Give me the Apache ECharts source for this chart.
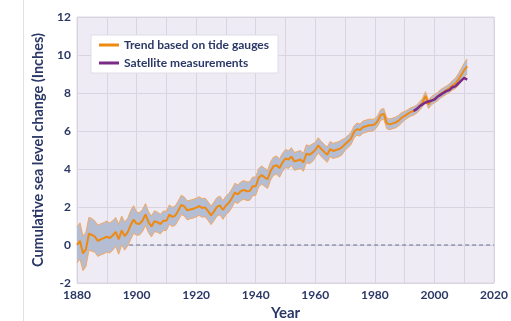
<!DOCTYPE html>
<html><head><meta charset="utf-8">
<script src="https://cdn.jsdelivr.net/npm/echarts@6/dist/echarts.min.js"></script>
<style>html,body{margin:0;padding:0;background:#fff}#c{width:511px;height:321px}</style>
</head><body><div id="c"></div>
<script>
var years = [
1880,1881,1882,1883,1884,1885,1886,1887,1888,1889,
1890,1891,1892,1893,1894,1895,1896,1897,1898,1899,
1900,1901,1902,1903,1904,1905,1906,1907,1908,1909,
1910,1911,1912,1913,1914,1915,1916,1917,1918,1919,
1920,1921,1922,1923,1924,1925,1926,1927,1928,1929,
1930,1931,1932,1933,1934,1935,1936,1937,1938,1939,
1940,1941,1942,1943,1944,1945,1946,1947,1948,1949,
1950,1951,1952,1953,1954,1955,1956,1957,1958,1959,
1960,1961,1962,1963,1964,1965,1966,1967,1968,1969,
1970,1971,1972,1973,1974,1975,1976,1977,1978,1979,
1980,1981,1982,1983,1984,1985,1986,1987,1988,1989,
1990,1991,1992,1993,1994,1995,1996,1997,1998,1999,
2000,2001,2002,2003,2004,2005,2006,2007,2008,2009,
2010,2011];
var trend = [
0.00,0.22,-0.44,-0.23,0.59,0.53,0.44,0.22,0.30,0.36,
0.44,0.37,0.50,0.69,0.30,0.77,0.47,0.67,1.04,1.34,
1.13,1.11,1.29,1.61,1.20,0.98,1.25,1.20,1.10,1.28,
1.27,1.60,1.48,1.55,1.80,2.11,2.03,1.82,1.87,1.91,
1.97,2.05,1.95,1.98,1.78,1.56,1.77,2.01,2.08,1.84,
2.08,2.22,2.46,2.76,2.67,2.83,2.90,2.83,2.84,3.09,
3.09,3.54,3.68,3.56,3.46,3.90,4.15,4.20,4.05,4.35,
4.55,4.50,4.65,4.40,4.45,4.50,4.35,4.80,4.75,4.85,
5.00,5.25,5.05,4.90,4.75,5.05,4.95,5.00,5.05,5.15,
5.30,5.45,5.60,5.95,6.10,6.05,6.20,6.25,6.30,6.30,
6.35,6.55,6.85,6.90,6.40,6.35,6.40,6.45,6.55,6.70,
6.80,6.90,7.00,7.05,7.15,7.30,7.50,7.85,7.40,7.60,
7.70,7.80,7.95,8.05,8.15,8.25,8.40,8.50,8.70,8.95,
9.20,9.40];
var margin = [
0.95,0.95,0.91,0.90,0.87,0.86,0.82,0.82,0.82,0.82,
0.82,0.79,0.78,0.76,0.79,0.76,0.74,0.72,0.76,0.73,
0.61,0.59,0.58,0.57,0.55,0.55,0.55,0.53,0.52,0.51,
0.51,0.51,0.51,0.51,0.51,0.51,0.50,0.50,0.49,0.49,
0.49,0.49,0.49,0.49,0.49,0.49,0.49,0.49,0.49,0.49,
0.49,0.49,0.49,0.49,0.49,0.49,0.49,0.49,0.49,0.49,
0.48,0.48,0.48,0.48,0.48,0.48,0.48,0.48,0.48,0.48,
0.47,0.47,0.47,0.47,0.47,0.47,0.47,0.47,0.47,0.47,
0.40,0.40,0.40,0.40,0.40,0.40,0.40,0.40,0.40,0.40,
0.32,0.32,0.32,0.32,0.32,0.32,0.32,0.32,0.32,0.32,
0.28,0.28,0.28,0.28,0.28,0.28,0.28,0.28,0.28,0.28,
0.22,0.22,0.22,0.22,0.22,0.22,0.22,0.22,0.22,0.22,
0.22,0.22,0.22,0.22,0.22,0.22,0.25,0.27,0.30,0.33,
0.36,0.40];
var satYears = [1993,1994,1995,1996,1997,1998,1999,2000,2001,2002,2003,2004,2005,2006,2007,2008,2009,2010,2011];
var satellite = [7.05,7.15,7.30,7.40,7.50,7.55,7.60,7.65,7.80,7.90,8.00,8.10,8.15,8.30,8.35,8.50,8.65,8.80,8.70];
var zeroLine = [[1897.5,0],[2020,0]];
var xTicks = [1880,1900,1920,1940,1960,1980,2000,2020];
var yTicks = [-2,0,2,4,6,8,10,12];

var navy = '#2b3866';
var font = 'Lato, "Open Sans", sans-serif';
var lower = [], upper = [], trendPts = [], satPts = [], bandRows = [];
for (var i = 0; i < years.length; i++) {
  lower.push([years[i], trend[i] - margin[i]]);
  upper.push([years[i], trend[i] + margin[i]]);
  trendPts.push([years[i], trend[i]]);
  bandRows.push([years[i], trend[i] - margin[i], trend[i] + margin[i]]);
}
for (var j = 0; j < satYears.length; j++) satPts.push([satYears[j], satellite[j]]);

function renderBand(params, api) {
  if (params.dataIndex !== 0) return null;
  var top = [], bot = [];
  for (var k = 0; k < bandRows.length; k++) {
    top.push(api.coord([bandRows[k][0], bandRows[k][2]]));
    bot.unshift(api.coord([bandRows[k][0], bandRows[k][1]]));
  }
  return {type: 'polygon', shape: {points: top.concat(bot)}, style: {fill: '#b5bdd3', stroke: 'none'}};
}

var chart = echarts.init(document.getElementById('c'), null, {renderer: 'canvas'});
chart.setOption({
  animation: false,
  backgroundColor: '#fff',
  textStyle: {fontFamily: font},
  graphic: [{type: 'line', shape: {x1: 23.5, y1: 0, x2: 23.5, y2: 321}, style: {stroke: '#e2e2e2', lineWidth: 1}}],
  grid: {left: 77, right: 17, top: 17, bottom: 38, show: true, containLabel: false, outerBoundsMode: 'none',
    backgroundColor: '#eeebf5', borderColor: '#dcd9e4', borderWidth: 1},
  legend: {
    left: 91, top: 35, orient: 'vertical', backgroundColor: '#fff', borderColor: '#dedde6', borderWidth: 1,
    padding: [4, 9, 4, 8], itemGap: 6, itemWidth: 20, itemHeight: 3, icon: 'rect',
    data: ['Trend based on tide gauges', 'Satellite measurements'],
    textStyle: {color: navy, fontWeight: 'bold', fontSize: 12, fontFamily: font}
  },
  xAxis: {
    type: 'value', min: 1880, max: 2020, interval: 10,
    name: 'Year', nameLocation: 'middle', nameGap: 23,
    nameTextStyle: {color: navy, fontWeight: 'bold', fontSize: 15, fontFamily: font},
    axisLine: {show: false}, axisTick: {show: false},
    axisLabel: {color: navy, fontWeight: 'bold', fontSize: 12, margin: 6, fontFamily: font,
      formatter: function (v) { return xTicks.indexOf(v) >= 0 ? String(v) : ''; }},
    splitLine: {show: true, lineStyle: {color: '#d8d5e1', width: 1}}
  },
  yAxis: {
    type: 'value', min: -2, max: 12, interval: 2,
    name: 'Cumulative sea level change (Inches)', nameLocation: 'middle', nameGap: 30,
    nameTextStyle: {color: navy, fontWeight: 'bold', fontSize: 14.5, fontFamily: font},
    axisLine: {show: false}, axisTick: {show: false},
    axisLabel: {color: navy, fontWeight: 'bold', fontSize: 12, margin: 6, fontFamily: font,
      formatter: function (v) { return yTicks.indexOf(v) >= 0 ? String(v) : ''; }},
    splitLine: {show: true, lineStyle: {color: '#d8d5e1', width: 1}}
  },
  series: [
    {name: 'zero', type: 'line', data: zeroLine, symbol: 'none', silent: true,
     lineStyle: {color: '#656e93', width: 1, type: [4, 3]}, z: 1},
    {name: 'band', type: 'custom', data: bandRows, renderItem: renderBand, silent: true, z: 2,
     encode: {x: 0, y: [1, 2]}},
    {name: 'lowerEdge', type: 'line', data: lower, symbol: 'none', lineStyle: {color: '#f4a860', width: 1}, z: 3},
    {name: 'upperEdge', type: 'line', data: upper, symbol: 'none', lineStyle: {color: '#f4a860', width: 1}, z: 3},
    {name: 'Trend based on tide gauges', type: 'line', data: trendPts, symbol: 'none', color: '#ee8a12',
     lineStyle: {color: '#ee8a12', width: 2}, z: 4},
    {name: 'Satellite measurements', type: 'line', data: satPts, symbol: 'none', color: '#7b2a86',
     lineStyle: {color: '#7b2a86', width: 2.5}, z: 5}
  ]
});
</script></body></html>
